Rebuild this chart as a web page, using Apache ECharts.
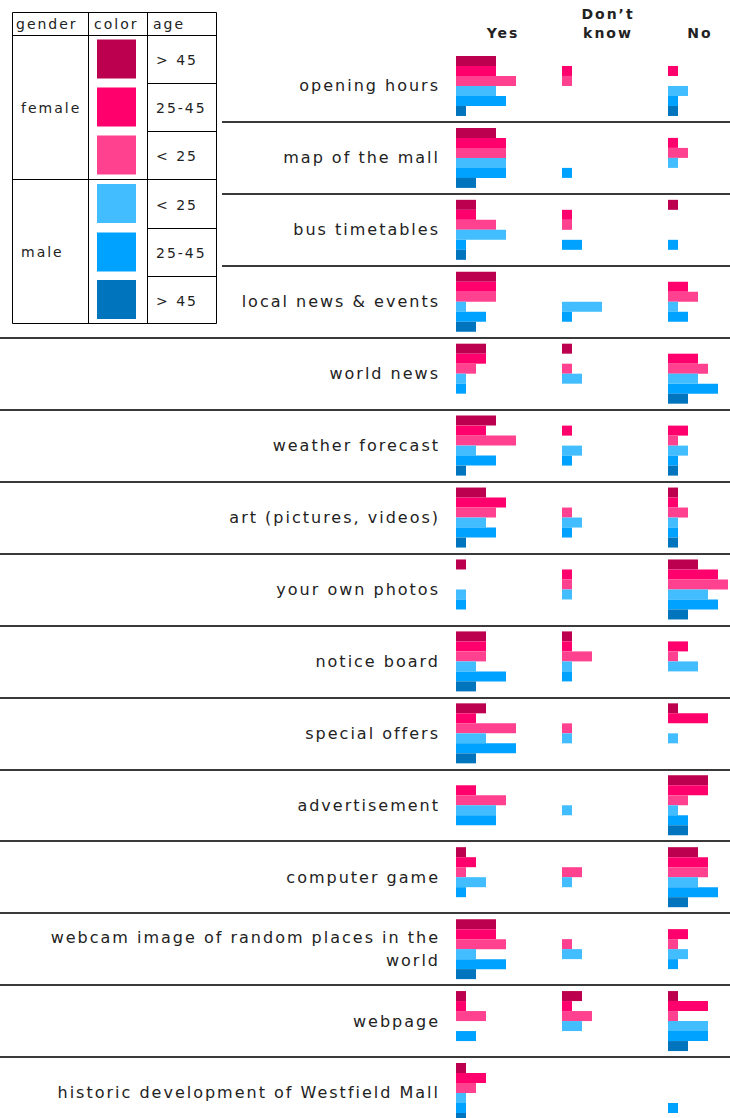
<!DOCTYPE html>
<html><head><meta charset="utf-8">
<script src="https://cdn.jsdelivr.net/npm/echarts@6/dist/echarts.min.js"></script>
<style>
html,body{margin:0;padding:0;background:#fff;}
#c{width:730px;height:1118px;letter-spacing:2px;}
</style></head><body><div id="c"></div>
<script>
const categories = ['opening hours','map of the mall','bus timetables','local news & events','world news','weather forecast','art (pictures, videos)','your own photos','notice board','special offers','advertisement','computer game','webcam image of random places in the world','webpage','historic development of Westfield Mall'];
const answers = ['Yes','Don’t\nknow','No'];
const genders = ['female','male'];
const ages = ['> 45','25-45','< 25','< 25','25-45','> 45'];
const groupColors = ['#BC004F','#FF006C','#FF4190','#42BDFF','#00A2FF','#0074BC'];

// Yes
const yesF45   = [4,4,2,4,3,4,3,1,3,3,0,1,4,1,1];
const yesF2545 = [4,5,2,4,3,3,5,0,3,2,2,2,4,1,3];
const yesF25   = [6,5,4,4,2,6,4,0,3,6,5,1,5,3,2];
const yesM25   = [4,5,5,1,1,2,3,1,2,3,4,3,2,0,1];
const yesM2545 = [5,5,1,3,1,4,4,1,5,6,4,1,5,2,1];
const yesM45   = [1,2,1,2,0,1,1,0,2,2,0,0,2,0,1];
// Don't know
const dkF45   = [0,0,0,0,1,0,0,0,1,0,0,0,0,2,0];
const dkF2545 = [1,0,1,0,0,1,0,1,1,0,0,0,0,1,0];
const dkF25   = [1,0,1,0,1,0,1,1,3,1,0,2,1,3,0];
const dkM25   = [0,0,0,4,2,2,2,1,1,1,1,1,2,2,0];
const dkM2545 = [0,1,2,1,0,1,1,0,1,0,0,0,0,0,0];
const dkM45   = [0,0,0,0,0,0,0,0,0,0,0,0,0,0,0];
// No
const noF45   = [0,0,1,0,0,0,1,3,0,1,4,3,0,1,0];
const noF2545 = [1,1,0,2,3,2,1,5,2,4,4,4,2,4,0];
const noF25   = [0,2,0,3,4,1,2,6,1,0,2,4,1,1,0];
const noM25   = [2,1,0,1,3,2,1,4,3,1,1,3,2,4,0];
const noM2545 = [1,0,1,2,5,1,1,5,0,0,2,5,1,4,1];
const noM45   = [1,0,0,0,2,1,1,2,0,0,2,2,0,2,0];

const table = [
  [yesF45,yesF2545,yesF25,yesM25,yesM2545,yesM45],
  [dkF45,dkF2545,dkF25,dkM25,dkM2545,dkM45],
  [noF45,noF2545,noF25,noM25,noM2545,noM45]
];

const FONT = 'DejaVu Sans, Verdana, sans-serif';
const TXT = '#222';
const rowH = 71.93;
const gridTop = 50;
const gridH = rowH * categories.length;
const colLeft = [456, 562, 668];
const colHeadX = [503, 608, 700];

// word wrap without trailing spaces
const measureCtx = document.createElement('canvas').getContext('2d');
measureCtx.font = '16px ' + FONT;
function wrap(label, maxW) {
  const words = label.split(' ');
  const lines = [];
  let cur = '';
  words.forEach(w => {
    const cand = cur ? cur + ' ' + w : w;
    if (cur && measureCtx.measureText(cand).width + cand.length * 2 > maxW) { lines.push(cur); cur = w; }
    else cur = cand;
  });
  if (cur) lines.push(cur);
  return lines.join('\n');
}

const grids = [], xAxes = [], yAxes = [], series = [];
colLeft.forEach((l, a) => {
  grids.push({left: l, top: gridTop, width: 70, height: gridH, outerBoundsMode: 'none'});
  xAxes.push({type: 'value', gridIndex: a, min: 0, max: 7, show: false});
  yAxes.push({
    type: 'category', gridIndex: a, data: categories, inverse: true,
    axisLine: {show: false}, axisTick: {show: false}, splitLine: {show: false},
    axisLabel: a === 0 ? {show: true, interval: 0, margin: 16, fontSize: 16, fontFamily: FONT, color: TXT,
      lineHeight: 23, formatter: v => wrap(v, 400)} : {show: false}
  });
  table[a].forEach((arr, g) => {
    series.push({type: 'bar', xAxisIndex: a, yAxisIndex: a, data: arr, barWidth: 10, barGap: '0%',
      itemStyle: {color: groupColors[g]}, silent: true});
  });
});
// separator grids
const sepDefs = [{left: 222, test: i => i >= 1 && i <= 3}, {left: 0, test: i => i >= 4}];
sepDefs.forEach((s, k) => {
  const gi = 3 + k;
  grids.push({left: s.left, right: 0, top: gridTop, height: gridH, outerBoundsMode: 'none'});
  xAxes.push({type: 'value', gridIndex: gi, show: false});
  yAxes.push({type: 'category', gridIndex: gi, data: categories, inverse: true,
    axisLine: {show: false}, axisTick: {show: false}, axisLabel: {show: false},
    splitLine: {show: true, interval: (i) => s.test(i), lineStyle: {color: '#3a3a3a', width: 2}}});
});

// legend table
const gEls = [];
const L = 12, R = 216, T = 12, B = 323, c1 = 88, c2 = 147, headB = 35;
const rowY = [35, 83, 131, 179, 228, 276, 323];
const line = (x1, y1, x2, y2) => ({type: 'line', shape: {x1, y1, x2, y2}, style: {stroke: '#000', lineWidth: 1}, silent: true});
gEls.push({type: 'rect', shape: {x: L + 0.5, y: T + 0.5, width: R - L, height: B - T}, style: {fill: '#fff', stroke: '#000', lineWidth: 1}, silent: true});
gEls.push(line(c1 + 0.5, T, c1 + 0.5, B));
gEls.push(line(c2 + 0.5, T, c2 + 0.5, B));
gEls.push(line(L, headB + 0.5, R, headB + 0.5));
gEls.push(line(L, 179.5, c2, 179.5));
for (let i = 1; i < 6; i++) gEls.push(line(c2, rowY[i] + 0.5, R, rowY[i] + 0.5));
const txt = (text, x, y, opts = {}) => ({type: 'text', x, y, silent: true, style: {
  text, font: (opts.bold ? 'bold ' : '') + (opts.size || 14) + 'px ' + FONT, fill: TXT,
  align: opts.align || 'left', textAlign: opts.align || 'left', verticalAlign: 'middle', textVerticalAlign: 'middle',
  lineHeight: opts.lh || 19}});
gEls.push(txt('gender', 16, 24));
gEls.push(txt('color', 94, 24));
gEls.push(txt('age', 153, 24));
genders.forEach((g, i) => gEls.push(txt(g, 21, (rowY[i * 3] + rowY[i * 3 + 3]) / 2 + 1)));
ages.forEach((a, i) => {
  const cy = (rowY[i] + rowY[i + 1]) / 2;
  gEls.push(txt(a, 156, cy + 1));
  gEls.push({type: 'rect', shape: {x: 97, y: cy - 19.5, width: 39, height: 39}, style: {fill: groupColors[i]}, silent: true});
});
answers.forEach((a, i) => gEls.push(txt(a, colHeadX[i], a.indexOf('\n') >= 0 ? 23.5 : 33, {bold: true, align: 'center'})));

const chart = echarts.init(document.getElementById('c'), null, {renderer: 'svg'});
chart.setOption({
  animation: false,
  backgroundColor: '#fff',
  grid: grids, xAxis: xAxes, yAxis: yAxes, series,
  graphic: {elements: gEls}
});
</script></body></html>
